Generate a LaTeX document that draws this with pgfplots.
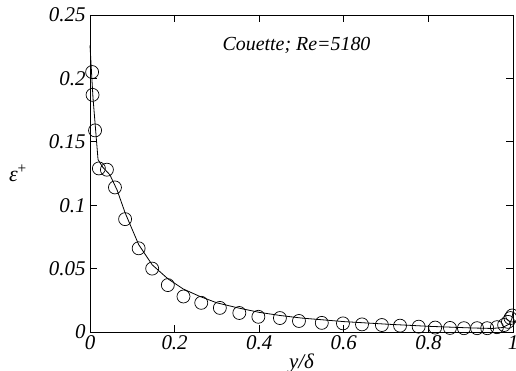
\documentclass[border=0pt]{standalone}
\usepackage{fontspec}
\setmainfont{Liberation Serif}
\usepackage{pgfplots}
\pgfplotsset{compat=1.18}
\begin{document}
\begin{tikzpicture}
\begin{axis}[
  scale only axis,
  width=423bp, height=317bp,
  xmin=0, xmax=1, ymin=0, ymax=0.25,
  xtick={0,0.2,0.4,0.6,0.8,1},
  ytick={0,0.05,0.1,0.15,0.2,0.25},
  xticklabels={0,0.2,0.4,0.6,0.8,1},
  yticklabels={0,0.05,0.1,0.15,0.2,0.25},
  tick align=inside,
  major tick length=7bp,
  tick style={black, line width=0.8bp},
  axis line style={line width=0.8bp},
  every tick label/.append style={font=\fontsize{21}{24}\selectfont\itshape},
  yticklabel style={xshift=-1bp},
  xticklabel style={yshift=0bp},
  clip=false,
  xlabel={\fontsize{21}{24}\selectfont\itshape y/δ},
  xlabel style={at={(axis description cs:0.5,0)}, anchor=north, yshift=-18.5bp},
  ylabel={\fontsize{22}{24}\selectfont\itshape ε\textsuperscript{\upshape +}},
  ylabel style={rotate=-90, at={(axis description cs:0,0.5)}, anchor=center, xshift=-72bp},
]
\addplot[black, line width=0.8bp, no marks] coordinates {
(0,0.226) (0.007,0.185) (0.019,0.136) (0.03,0.130) (0.047,0.124) (0.064,0.112)
(0.083,0.094) (0.115,0.069) (0.147,0.053) (0.184,0.042) (0.22,0.034)
(0.26,0.028) (0.30,0.023) (0.35,0.019) (0.40,0.0155) (0.45,0.013)
(0.50,0.011) (0.60,0.0082) (0.70,0.0062) (0.80,0.0045) (0.90,0.0032)
(0.95,0.0028) (0.975,0.0035) (0.99,0.006) (0.997,0.010) (1.0,0.016)
};
\addplot[black, line width=0.7bp, only marks, mark=o, mark size=6.5bp] coordinates {
(0.005,0.205) (0.006,0.187) (0.012,0.159) (0.021,0.129) (0.040,0.128)
(0.059,0.114) (0.083,0.089) (0.115,0.066) (0.147,0.050) (0.184,0.037)
(0.221,0.028) (0.263,0.023) (0.307,0.019) (0.353,0.015) (0.398,0.012)
(0.449,0.011) (0.494,0.0087) (0.548,0.0072) (0.598,0.0068) (0.643,0.006)
(0.690,0.0055) (0.733,0.005) (0.777,0.0042) (0.816,0.0035) (0.851,0.0032)
(0.884,0.003) (0.915,0.003) (0.939,0.003) (0.962,0.0038) (0.979,0.0055)
(0.988,0.008) (0.994,0.011) (0.998,0.013)
};
\node[font=\fontsize{20}{22}\selectfont\itshape, anchor=west] at (axis cs:0.305,0.226) {Couette; Re=5180};
\end{axis}
\pgfresetboundingbox
\path ([xshift=-90bp,yshift=-39bp]current axis.south west) rectangle ([xshift=3bp,yshift=15bp]current axis.north east);
\end{tikzpicture}
\end{document}
